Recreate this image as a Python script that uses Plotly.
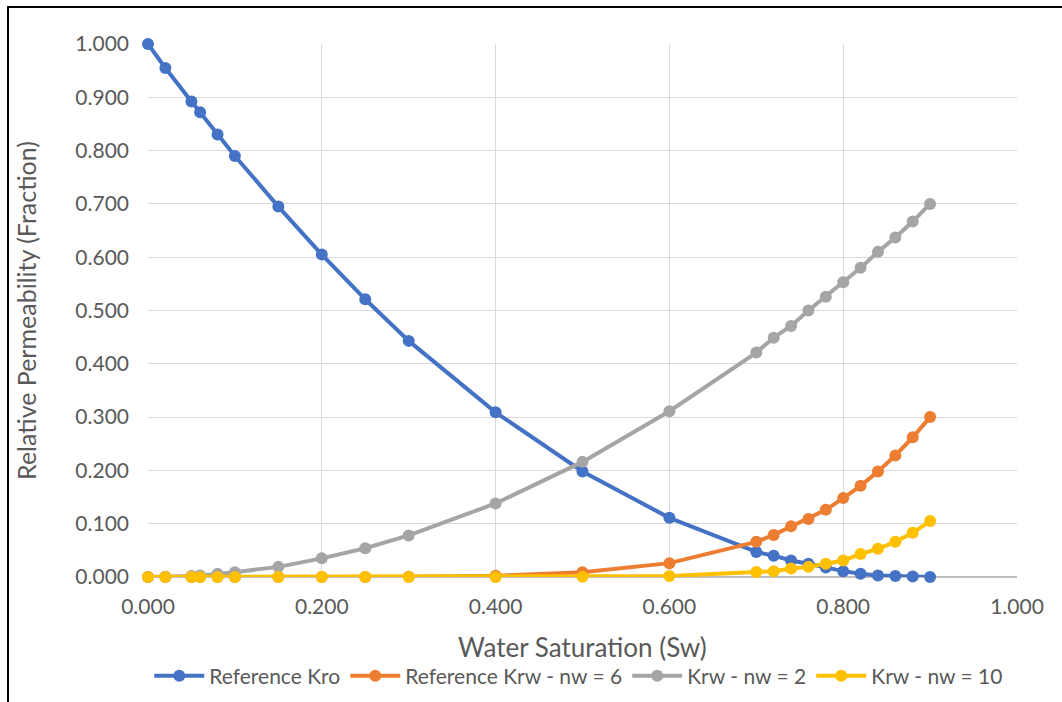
import plotly.graph_objects as go

sw = [0.00, 0.02, 0.05, 0.06, 0.08, 0.10, 0.15, 0.20, 0.25, 0.30, 0.40, 0.50, 0.60,
      0.70, 0.72, 0.74, 0.76, 0.78, 0.80, 0.82, 0.84, 0.86, 0.88, 0.90]

kro_ref = [1.000, 0.955, 0.892, 0.872, 0.830, 0.790, 0.695, 0.605, 0.521, 0.443, 0.309, 0.198, 0.111,
           0.047, 0.040, 0.031, 0.025, 0.018, 0.011, 0.006, 0.003, 0.002, 0.001, 0.000]

krw_nw6 = [0.000, 0.000, 0.000, 0.000, 0.000, 0.000, 0.000, 0.000, 0.0001, 0.0004, 0.0023, 0.009, 0.026,
           0.066, 0.079, 0.095, 0.109, 0.126, 0.148, 0.171, 0.198, 0.228, 0.262, 0.300]

krw_nw2 = [0.000, 0.0003, 0.002, 0.003, 0.006, 0.009, 0.019, 0.035, 0.054, 0.078, 0.138, 0.216, 0.311,
           0.421, 0.449, 0.471, 0.500, 0.526, 0.553, 0.580, 0.610, 0.637, 0.667, 0.700]

krw_nw10 = [0.000, 0.000, 0.000, 0.000, 0.000, 0.000, 0.000, 0.000, 0.000, 0.000, 0.0001, 0.0003, 0.0018,
            0.0095, 0.011, 0.016, 0.019, 0.025, 0.031, 0.043, 0.053, 0.066, 0.083, 0.105]

series = [
    ("Reference Kro", kro_ref, "#4472C4"),
    ("Reference Krw - nw = 6", krw_nw6, "#ED7D31"),
    ("Krw - nw = 2", krw_nw2, "#A5A5A5"),
    ("Krw - nw = 10", krw_nw10, "#FFC000"),
]

x_title = "Water Saturation (Sw)"
y_title = "Relative Permeability (Fraction)"

FONT = "Lato"
GREY = "#595959"
fig = go.Figure()
for name, ys, col in series:
    fig.add_trace(go.Scatter(
        x=sw, y=ys, name=name, mode="lines+markers",
        line=dict(color=col, width=4),
        marker=dict(color=col, size=12),
        cliponaxis=False,
    ))

fig.update_layout(
    width=1062, height=702,
    margin=dict(l=148, r=45, t=44, b=125),
    paper_bgcolor="white", plot_bgcolor="white",
    font=dict(family=FONT, color=GREY, size=21),
    showlegend=True,
    legend=dict(orientation="h", xref="container", yref="container",
                x=0.545, xanchor="center", y=26 / 702, yanchor="middle",
                font=dict(size=21, color=GREY), itemwidth=50, tracegroupgap=0),
    xaxis=dict(
        range=[0, 1.0], dtick=0.2, tickformat=".3f", automargin=False,
        showgrid=True, gridcolor="#D9D9D9", gridwidth=1.3,
        zeroline=False, showline=False,
        ticks="", ticklabelstandoff=15,
        tickfont=dict(size=21, color=GREY),
    ),
    yaxis=dict(
        range=[0, 1.0], dtick=0.1, tickformat=".3f", automargin=False,
        showgrid=True, gridcolor="#D9D9D9", gridwidth=1.3,
        zeroline=True, zerolinecolor="#BFBFBF", zerolinewidth=1.5,
        showline=False,
        ticks="", ticklabelstandoff=18,
        tickfont=dict(size=21, color=GREY),
        title=dict(text=y_title, font=dict(size=25, color=GREY), standoff=31),
    ),
    annotations=[dict(text=x_title, xref="paper", yref="paper", x=0.5, y=(577 - 647) / 533,
                      xanchor="center", yanchor="middle", showarrow=False,
                      font=dict(size=26, color=GREY, family=FONT))],
    shapes=[dict(type="rect", xref="paper", yref="paper",
                 x0=(8 - 148) / 869, x1=1.3, y0=-0.5, y1=(577 - 7) / 533,
                 line=dict(color="black", width=2), layer="below")],
)

fig.write_html("out.html")
